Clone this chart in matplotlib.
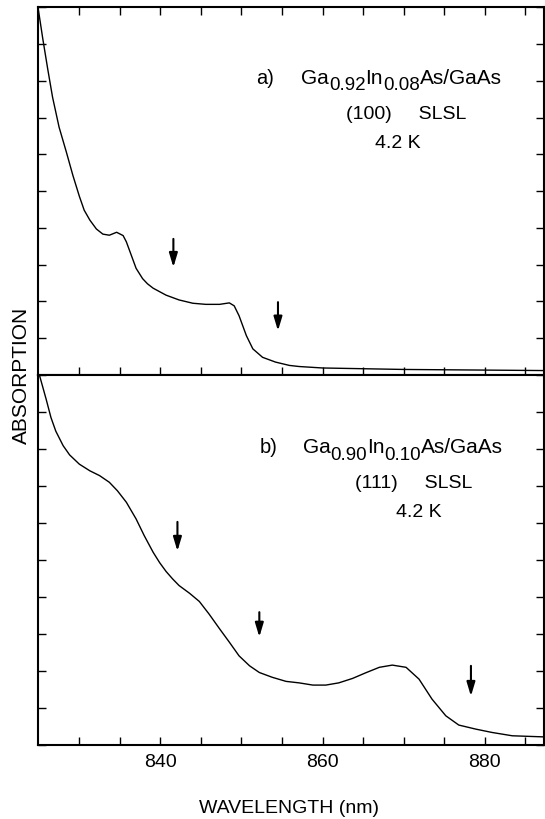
import matplotlib
matplotlib.use('Agg')
import matplotlib.pyplot as plt
from matplotlib.transforms import offset_copy

plt.rcParams['font.family'] = ['Liberation Sans', 'DejaVu Sans']

# panel a) Ga0.92In0.08As/GaAs (100)
wl_a = [824.9, 825.5, 826.1, 826.7, 827.5, 828.4, 829.2, 830.0, 830.6, 831.3,
        832.1, 832.9, 833.7, 834.6, 835.4, 835.8, 836.2, 836.6, 837.0, 837.8,
        838.4, 839.1, 840.7, 842.3, 844.0, 845.6, 847.3, 848.5, 849.1, 849.7,
        850.6, 851.4, 852.6, 854.2, 855.9, 857.1, 860.0, 870.0, 887.3]
abs_a = [10.0, 9.13, 8.32, 7.55, 6.74, 6.06, 5.43, 4.86, 4.48, 4.21,
         3.97, 3.83, 3.80, 3.88, 3.79, 3.62, 3.38, 3.14, 2.90, 2.62,
         2.48, 2.36, 2.17, 2.04, 1.95, 1.92, 1.92, 1.96, 1.88, 1.61,
         1.07, 0.71, 0.48, 0.35, 0.26, 0.23, 0.19, 0.15, 0.12]

# panel b) Ga0.90In0.10As/GaAs (111)
wl_b = [825.1, 825.9, 826.5, 827.1, 828.0, 828.8, 830.0, 831.3, 832.5, 833.7,
        834.7, 835.8, 837.0, 838.0, 839.1, 839.9, 840.7, 841.5, 842.3, 843.6,
        844.8, 846.0, 847.3, 848.5, 849.7, 851.0, 852.2, 853.8, 855.5, 857.1,
        858.8, 860.4, 862.0, 863.7, 865.3, 867.0, 868.6, 870.3, 871.9, 873.5,
        875.2, 876.8, 878.9, 880.9, 883.4, 887.3]
abs_b = [9.98, 9.35, 8.85, 8.48, 8.09, 7.84, 7.59, 7.41, 7.28, 7.10,
         6.87, 6.56, 6.11, 5.66, 5.21, 4.93, 4.69, 4.49, 4.31, 4.10,
         3.88, 3.54, 3.14, 2.78, 2.41, 2.14, 1.96, 1.83, 1.72, 1.68,
         1.62, 1.62, 1.68, 1.80, 1.95, 2.10, 2.16, 2.10, 1.78, 1.24,
         0.79, 0.54, 0.43, 0.34, 0.25, 0.22]

# arrows: x, y_top, y_bottom
arrows_a = [(841.6, 3.70, 2.93), (854.5, 1.98, 1.20)]
arrows_b = [(842.1, 6.03, 5.24), (852.2, 3.59, 2.92), (878.3, 2.14, 1.32)]

# formula pieces: (text, is_subscript)
formula_a = [('Ga', False), ('0.92', True), ('In', False), ('0.08', True), ('As/GaAs', False)]
formula_b = [('Ga', False), ('0.90', True), ('In', False), ('0.10', True), ('As/GaAs', False)]
tag_a, tag_b = 'a)', 'b)'
line2_a, line2_b = '(100)     SLSL', '(111)     SLSL'
temp = '4.2 K'

fig = plt.figure(figsize=(5.45, 8.2), dpi=100)
ax_a = fig.add_axes([0.0697, 0.5415, 0.9283, 0.4485])
ax_b = fig.add_axes([0.0697, 0.0902, 0.9283, 0.4513])
renderer = fig.canvas.get_renderer()


def style(ax, top_ticks):
    ax.set_xlim(824.9, 887.3)
    ax.set_ylim(0, 10)
    ax.set_xticks([840, 860, 880])
    ax.set_xticks(range(830, 890, 5), minor=True)
    ax.set_yticks(range(0, 11))
    ax.set_yticklabels([])
    ax.tick_params(which='both', direction='in', length=6, width=1,
                   top=top_ticks, right=True, labelsize=14, pad=6)
    for s in ax.spines.values():
        s.set_linewidth(1.5)


def formula(ax, x, y, pieces, drop):
    x_off = 0
    for txt, sub in pieces:
        tr = offset_copy(ax.transAxes, fig=fig, x=x_off,
                         y=-drop if sub else 0, units='dots')
        t = ax.text(x, y, txt, transform=tr, fontsize=13.5 if sub else 15,
                    ha='left', va='baseline')
        x_off += t.get_window_extent(renderer).width


def panel(ax, wl, ab, arrows):
    ax.plot(wl, ab, color='black', lw=1.0)
    for x, yt, yb in arrows:
        ax.annotate('', xy=(x, yb), xytext=(x, yt),
                    arrowprops=dict(arrowstyle='-|>,head_length=0.6,head_width=0.18',
                                    color='black', lw=1.5,
                                    mutation_scale=14, shrinkA=0, shrinkB=0))


style(ax_a, True)
style(ax_b, False)
ax_a.tick_params(labelbottom=False)
panel(ax_a, wl_a, abs_a, arrows_a)
panel(ax_b, wl_b, abs_b, arrows_b)

ax_a.text(0.432, 0.795, tag_a, transform=ax_a.transAxes, fontsize=14.5, va='baseline')
formula(ax_a, 0.520, 0.795, formula_a, 6)
ax_a.text(0.728, 0.700, line2_a, transform=ax_a.transAxes, fontsize=14,
          ha='center', va='baseline')
ax_a.text(0.712, 0.621, temp, transform=ax_a.transAxes, fontsize=14,
          ha='center', va='baseline')

ax_b.text(0.438, 0.791, tag_b, transform=ax_b.transAxes, fontsize=14.5, va='baseline')
formula(ax_b, 0.523, 0.791, formula_b, 6.5)
ax_b.text(0.742, 0.696, line2_b, transform=ax_b.transAxes, fontsize=14,
          ha='center', va='baseline')
ax_b.text(0.753, 0.620, temp, transform=ax_b.transAxes, fontsize=14,
          ha='center', va='baseline')

fig.text(0.531, 0.0146, 'WAVELENGTH (nm)', fontsize=14, ha='center', va='center')
fig.text(0.040, 0.542, 'ABSORPTION', rotation=90, fontsize=15,
         ha='center', va='center')

fig.savefig('out.png', dpi=100)
